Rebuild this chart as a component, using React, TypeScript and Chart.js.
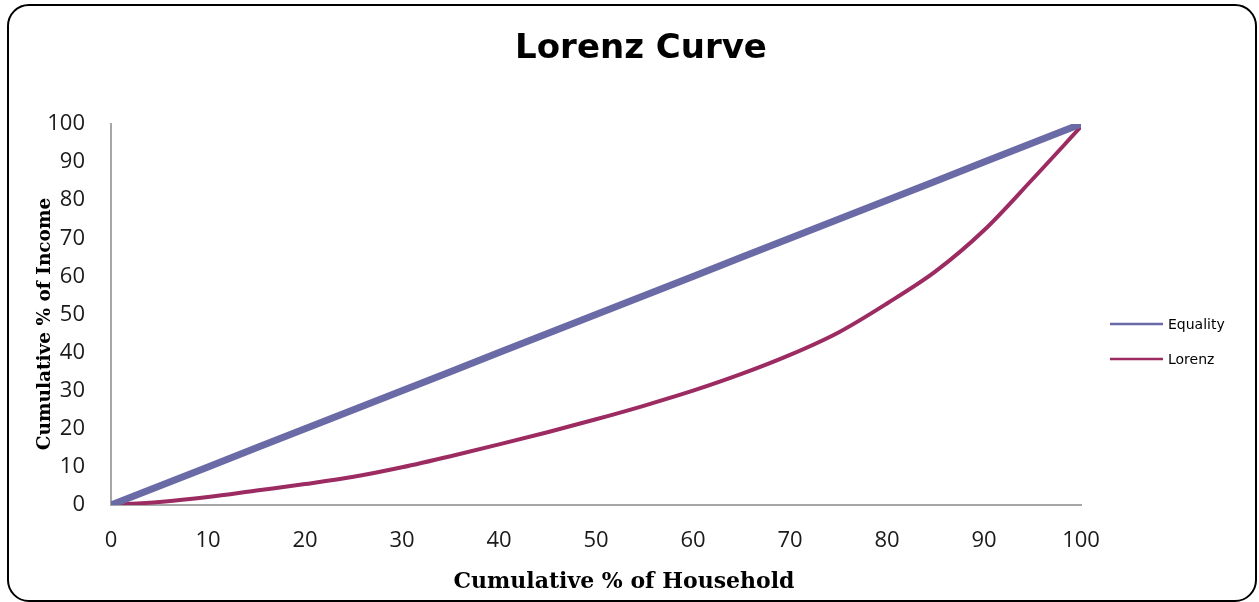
import React, { useEffect, useRef } from "react";
import { Chart, registerables } from "chart.js";

Chart.register(...registerables);

// Cumulative share of households (%)
const householdPct = [0, 5, 10, 15, 20, 25, 30, 35, 40, 45, 50, 55, 60, 65, 70, 75, 80, 85, 90, 95, 100];
// Line of perfect equality
const equalityPct = [0, 5, 10, 15, 20, 25, 30, 35, 40, 45, 50, 55, 60, 65, 70, 75, 80, 85, 90, 95, 100];
// Observed cumulative share of income (%)
const lorenzPct = [0, 0.8, 2.1, 3.8, 5.5, 7.4, 9.9, 12.8, 15.9, 19.1, 22.5, 26.1, 30.0, 34.4, 39.4, 45.3, 52.9, 61.3, 72.1, 85.5, 99.3];

const seriesNames = ["Equality", "Lorenz"];
const seriesColors = ["#6A6AA6", "#9C2B62"];
const titleText = "Lorenz Curve";
const xTitle = "Cumulative % of Household";
const yTitle = "Cumulative % of Income";

const textPlugin = {
  id: "lorenzText",
  afterDraw(chart: any) {
    const ctx = chart.ctx as CanvasRenderingContext2D;
    ctx.save();
    ctx.fillStyle = "#000";
    ctx.textAlign = "center";
    ctx.textBaseline = "alphabetic";

    // Chart title
    ctx.font = "bold 34px 'DejaVu Sans'";
    ctx.fillText(titleText, 641, 58);

    // Axis titles
    ctx.font = "bold 22px 'DejaVu Serif'";
    ctx.fillText(xTitle, 624, 588);
    ctx.save();
    ctx.translate(50, 324);
    ctx.rotate(-Math.PI / 2);
    ctx.font = "bold 18.5px 'DejaVu Serif'";
    ctx.fillText(yTitle, 0, 0);
    ctx.restore();

    // Legend
    ctx.font = "14px 'DejaVu Sans'";
    ctx.textAlign = "left";
    ctx.textBaseline = "middle";
    const rows = [324, 359];
    seriesNames.forEach((name, i) => {
      const y = rows[i];
      ctx.strokeStyle = seriesColors[i];
      ctx.lineWidth = 2.5;
      ctx.beginPath();
      ctx.moveTo(1110, y);
      ctx.lineTo(1163, y);
      ctx.stroke();
      ctx.fillStyle = "#000";
      ctx.fillText(name, 1168, y + 1);
    });
    ctx.restore();
  },
};

export default function App() {
  const canvasRef = useRef<HTMLCanvasElement | null>(null);

  useEffect(() => {
    if (!canvasRef.current) return;
    const toPoints = (ys: number[]) => householdPct.map((x, i) => ({ x, y: ys[i] }));
    const chart = new Chart(canvasRef.current, {
      type: "line",
      data: {
        datasets: [
          {
            label: seriesNames[0],
            data: toPoints(equalityPct),
            borderColor: seriesColors[0],
            backgroundColor: seriesColors[0],
            borderWidth: 7,
            pointRadius: 0,
            tension: 0,
          },
          {
            label: seriesNames[1],
            data: toPoints(lorenzPct),
            borderColor: seriesColors[1],
            backgroundColor: seriesColors[1],
            borderWidth: 4,
            pointRadius: 0,
            cubicInterpolationMode: "monotone",
          },
        ],
      },
      options: {
        animation: false,
        responsive: true,
        maintainAspectRatio: false,
        layout: { padding: { left: 0, right: 178, top: 124, bottom: 0 } },
        plugins: {
          legend: { display: false },
          title: { display: false },
          tooltip: { enabled: false },
        },
        scales: {
          x: {
            type: "linear",
            min: 0,
            max: 100,
            grid: { display: false, drawTicks: false },
            border: { display: true, color: "#a6a6a6", width: 2 },
            ticks: {
              stepSize: 10,
              padding: 23,
              color: "#1a1a1a",
              font: { family: "'Open Sans'", size: 22 },
              maxRotation: 0,
            },
            afterFit(scale: any) {
              scale.height = 97;
            },
          },
          y: {
            min: 0,
            max: 100,
            grid: { display: false, drawTicks: false },
            border: { display: true, color: "#a6a6a6", width: 2 },
            ticks: {
              stepSize: 10,
              padding: 26,
              color: "#1a1a1a",
              font: { family: "'Open Sans'", size: 22 },
            },
            afterFit(scale: any) {
              scale.width = 111;
            },
          },
        },
      },
      plugins: [textPlugin],
    });
    return () => chart.destroy();
  }, []);

  return (
    <div style={{ position: "absolute", left: 0, top: 0, width: 1259, height: 602, background: "#fff" }}>
      <canvas ref={canvasRef} />
      <div
        style={{
          position: "absolute",
          left: 7,
          top: 4,
          width: 1250,
          height: 598,
          border: "2px solid #000",
          borderRadius: 22,
          boxSizing: "border-box",
          pointerEvents: "none",
        }}
      />
    </div>
  );
}
